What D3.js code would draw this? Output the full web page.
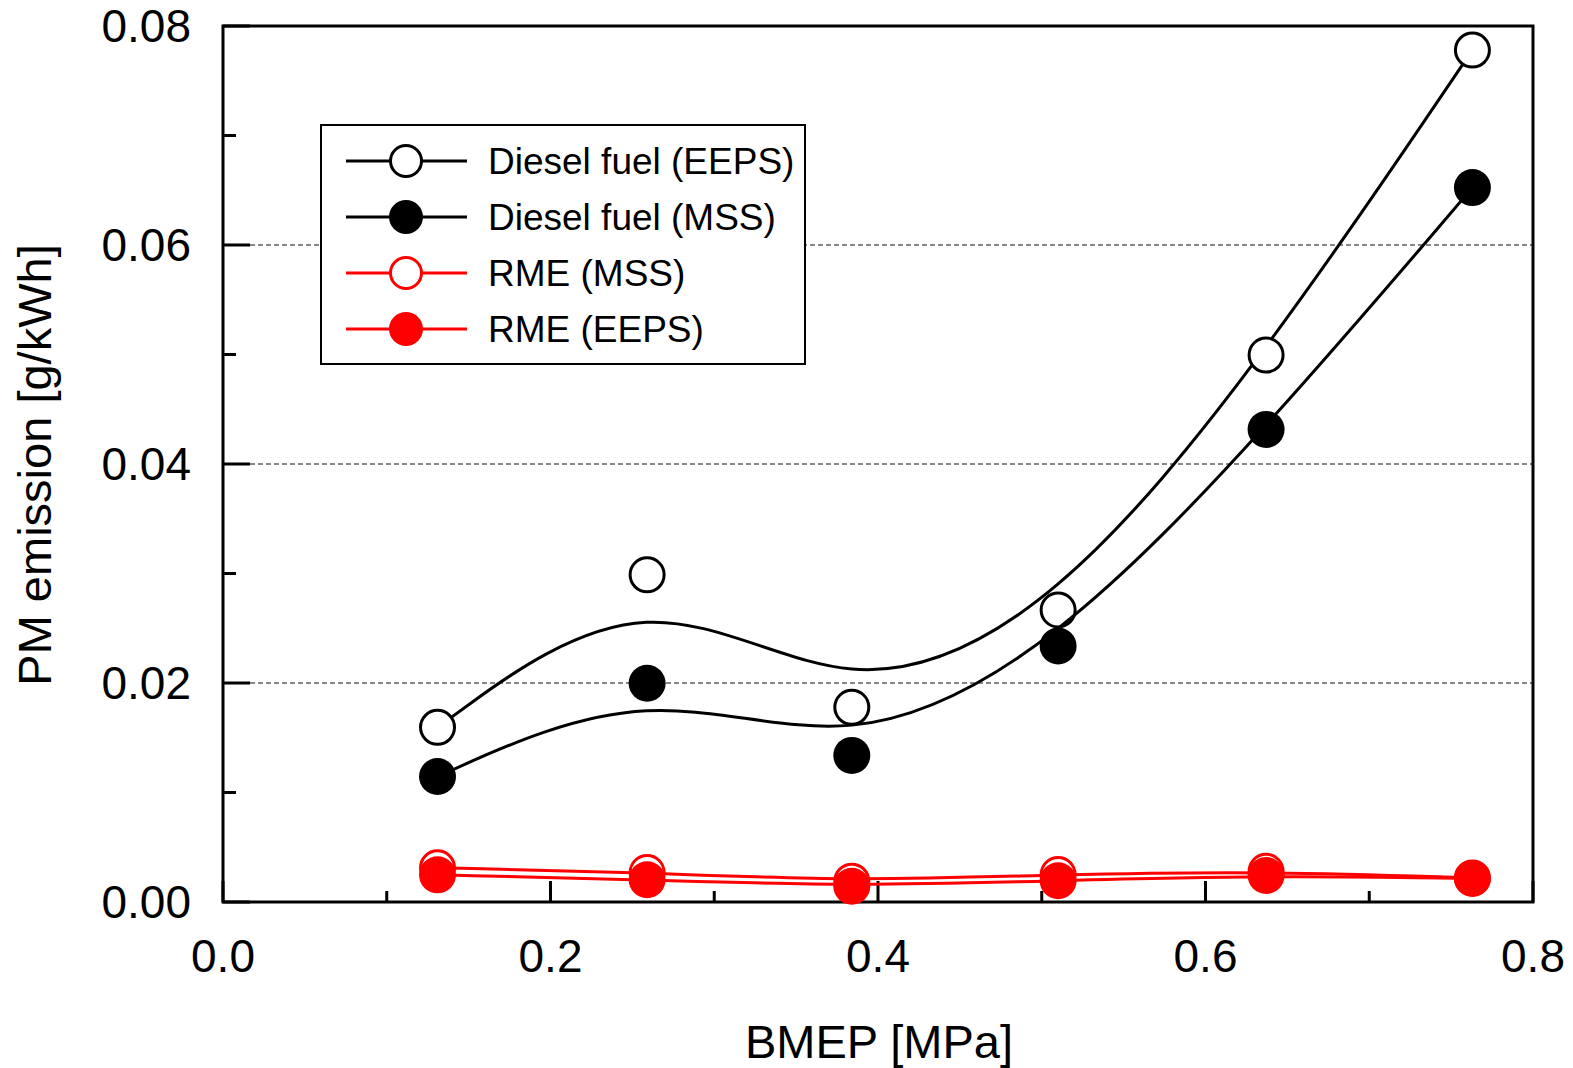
<html lang = "en">
    <head>
        <title>PM emission vs BMEP</title>
        <meta charset = "utf-8">
        <style>
            body {margin: 0; background: white;}
            svg {background: white; display: block;}
            text {font-family: "Liberation Sans", Arial, sans-serif; fill: black;}
            .frame {fill: none; stroke: black; stroke-width: 3;}
            .grid {stroke: #111111; stroke-width: 1; stroke-dasharray: 5,3;}
            .tick_mark {stroke: black; stroke-width: 3;}
            .fit {fill: none; stroke-width: 3;}
        </style>
    </head>
    <body>
        <div id = "chart"></div>
        <script src="https://d3js.org/d3.v7.min.js"></script>
        <script>
            // values
            var bmep = [0.131, 0.259, 0.384, 0.510, 0.637, 0.763];
            var dieselEEPS = [0.01595, 0.02988, 0.01778, 0.02667, 0.04995, 0.0778];
            var dieselMSS = [0.01146, 0.01998, 0.01339, 0.02338, 0.04316, 0.06524];
            var rmeMSS = [0.00312, 0.00269, 0.0019, 0.00251, 0.00281, 0.0022];
            var rmeEEPS = [0.00248, 0.00203, 0.00144, 0.00194, 0.00242, 0.00215];

            var seriesNames = ["Diesel fuel (EEPS)", "Diesel fuel (MSS)", "RME (MSS)", "RME (EEPS)"];
            var seriesColors = ["black", "black", "red", "red"];
            var seriesFilled = [false, true, false, true];
            var seriesValues = [dieselEEPS, dieselMSS, rmeMSS, rmeEEPS];

            var xTicks = [0.0, 0.1, 0.2, 0.3, 0.4, 0.5, 0.6, 0.7, 0.8];
            var yTicks = [0.00, 0.01, 0.02, 0.03, 0.04, 0.05, 0.06, 0.07, 0.08];
            var yGrid = [0.02, 0.04, 0.06];

            var margin = {top: 26, left: 223, right: 40, bottom: 166},
                fullWidth = 1573,
                fullHeight = 1068,
                width = fullWidth - margin.left - margin.right,
                height = fullHeight - margin.top - margin.bottom;

            var svg = d3.select("#chart")
                .append("svg")
                .attr("width", fullWidth)
                .attr("height", fullHeight)
                .append("g")
                .attr("transform", "translate(" + margin.left + "," + margin.top + ")");

            var x = d3.scaleLinear()
                .domain([0, 0.8])
                .range([0, width]);

            var y = d3.scaleLinear()
                .domain([0, 0.08])
                .range([height, 0]);

            // dashed grid lines start after the long tick
            svg.selectAll(".grid")
                .data(yGrid)
                .enter().append("line")
                .attr("class", "grid")
                .attr("x1", 27)
                .attr("x2", width)
                .attr("y1", function(d) { return y(d); })
                .attr("y2", function(d) { return y(d); });

            // inward ticks, long at labelled values
            svg.selectAll(".ytick")
                .data(yTicks)
                .enter().append("line")
                .attr("class", "tick_mark")
                .attr("x1", 0)
                .attr("x2", function(d, i) { return i % 2 == 0 ? 27 : 13; })
                .attr("y1", function(d) { return y(d); })
                .attr("y2", function(d) { return y(d); });

            svg.selectAll(".xtick")
                .data(xTicks)
                .enter().append("line")
                .attr("class", "tick_mark")
                .attr("x1", function(d) { return x(d); })
                .attr("x2", function(d) { return x(d); })
                .attr("y1", height)
                .attr("y2", function(d, i) { return height - (i % 2 == 0 ? 21 : 11); });

            svg.append("rect")
                .attr("class", "frame")
                .attr("x", 0)
                .attr("y", 0)
                .attr("width", width)
                .attr("height", height);

            svg.selectAll(".ylabel")
                .data(yTicks.filter(function(d, i) { return i % 2 == 0; }))
                .enter().append("text")
                .attr("x", -32)
                .attr("y", function(d) { return y(d); })
                .attr("dy", "0.35em")
                .style("text-anchor", "end")
                .style("font-size", "46px")
                .text(function(d) { return d3.format(".2f")(d); });

            svg.selectAll(".xlabel")
                .data(xTicks.filter(function(d, i) { return i % 2 == 0; }))
                .enter().append("text")
                .attr("x", function(d) { return x(d); })
                .attr("y", height + 54)
                .attr("dy", "0.35em")
                .style("text-anchor", "middle")
                .style("font-size", "46px")
                .text(function(d) { return d3.format(".1f")(d); });

            svg.append("text")
                .attr("x", width / 2 + 1)
                .attr("y", height + 140)
                .attr("dy", "0.35em")
                .style("text-anchor", "middle")
                .style("font-size", "47px")
                .text("BMEP [MPa]");

            svg.append("text")
                .attr("transform", "translate(" + (35 - margin.left) + "," + (465 - margin.top) + ") rotate(-90)")
                .attr("dy", "0.35em")
                .style("text-anchor", "middle")
                .style("font-size", "47px")
                .text("PM emission [g/kWh]");

            // B-spline through the measured points
            var line = d3.line()
                .x(function(d) { return x(d[0]); })
                .y(function(d) { return y(d[1]); })
                .curve(d3.curveBasis);

            seriesValues.forEach(function(vals, s)
                {
                    var pts = bmep.map(function(b, i) { return [b, vals[i]]; });

                    svg.append("path")
                        .attr("class", "fit")
                        .attr("d", line(pts))
                        .style("stroke", seriesColors[s]);

                    svg.selectAll(".pt" + s)
                        .data(pts)
                        .enter().append("circle")
                        .attr("cx", function(d) { return x(d[0]); })
                        .attr("cy", function(d) { return y(d[1]); })
                        .attr("r", seriesFilled[s] ? 18.5 : 17)
                        .style("fill", seriesFilled[s] ? seriesColors[s] : "white")
                        .style("stroke", seriesFilled[s] ? "none" : seriesColors[s])
                        .style("stroke-width", 3);
                });

            // legend
            var legend = svg.append("g")
                .attr("transform", "translate(" + (321 - margin.left) + "," + (125 - margin.top) + ")");

            legend.append("rect")
                .attr("width", 484)
                .attr("height", 239)
                .style("fill", "white")
                .style("stroke", "black")
                .style("stroke-width", 2);

            seriesNames.forEach(function(name, s)
                {
                    var ly = 36 + s * 56;
                    legend.append("line")
                        .attr("x1", 25)
                        .attr("x2", 146)
                        .attr("y1", ly)
                        .attr("y2", ly)
                        .style("stroke", seriesColors[s])
                        .style("stroke-width", 3);
                    legend.append("circle")
                        .attr("cx", 85)
                        .attr("cy", ly)
                        .attr("r", seriesFilled[s] ? 17 : 15.5)
                        .style("fill", seriesFilled[s] ? seriesColors[s] : "white")
                        .style("stroke", seriesFilled[s] ? "none" : seriesColors[s])
                        .style("stroke-width", 3);
                    legend.append("text")
                        .attr("x", 167)
                        .attr("y", ly)
                        .attr("dy", "0.35em")
                        .style("font-size", "37px")
                        .text(name);
                });
        </script>
    </body>
</html>
